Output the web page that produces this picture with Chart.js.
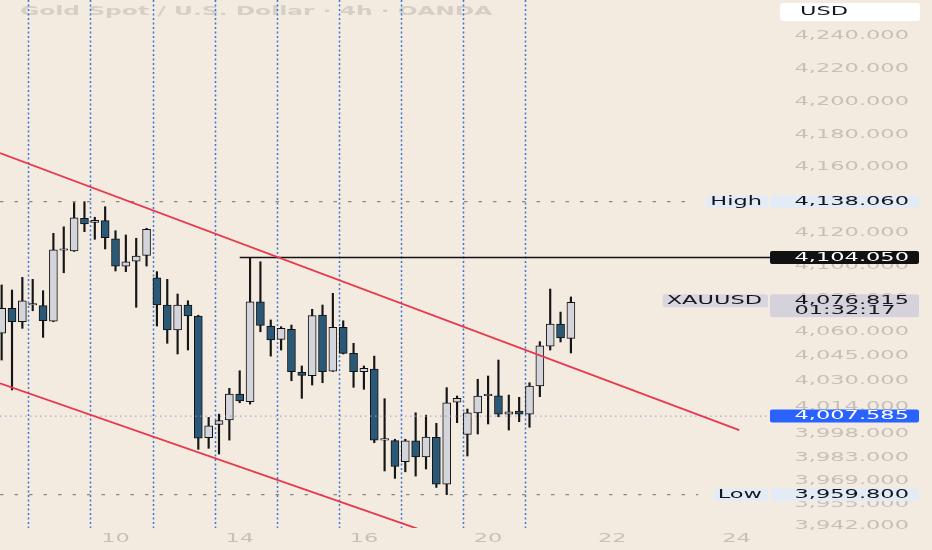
<!DOCTYPE html>
<html>
<head>
<meta charset="utf-8">
<script src="https://cdn.jsdelivr.net/npm/chart.js@4.4.1/dist/chart.umd.min.js"></script>
<style>
  html, body { margin: 0; padding: 0; background: #f4ebe0; }
  #wrap { width: 932px; height: 550px; position: relative; }
</style>
</head>
<body>
<div id="wrap"><canvas id="c"></canvas></div>
<script>
// 4h candles, oldest first (index 0 = first visible candle)
const opens = [4058.0, 4073.2, 4065.0, 4075.2, 4074.8, 4065.4, 4108.5, 4108.1, 4128.0, 4125.5,
  4126.5, 4115.5, 4098.9, 4101.8, 4105.4, 4091.8, 4075.2, 4060.0, 4075.2, 4068.5,
  3994.4, 4002.6, 4005.2, 4021.0, 4016.3, 4077.2, 4062.4, 4054.3, 4060.4, 4034.2,
  4032.2, 4069.1, 4035.0, 4061.6, 4045.8, 4034.6, 4036.2, 3993.0, 3992.7, 3979.8,
  3992.5, 3982.7, 3994.7, 3966.2, 4016.0, 3996.5, 4009.6, 4020.0, 4020.0, 4008.8,
  4010.7, 4008.8, 4025.9, 4050.2, 4063.6, 4054.9];
const highs = [4087.4, 4084.3, 4092.0, 4090.8, 4083.9, 4118.8, 4122.8, 4137.5, 4138.06, 4128.6,
  4135.0, 4120.4, 4117.8, 4115.8, 4121.9, 4095.5, 4090.8, 4081.9, 4077.8, 4069.0,
  4006.8, 4008.8, 4024.5, 4035.2, 4104.05, 4101.5, 4066.1, 4062.0, 4063.0, 4038.1,
  4072.6, 4075.2, 4082.3, 4065.6, 4051.9, 4038.1, 4044.1, 4018.2, 3993.5, 3993.5,
  4009.6, 4008.2, 4003.2, 4024.9, 4019.8, 4011.9, 4030.0, 4032.0, 4041.7, 4020.4,
  4019.0, 4027.9, 4052.9, 4084.9, 4070.9, 4080.1];
const lows = [4041.7, 4023.5, 4061.0, 4071.7, 4055.5, 4065.0, 4094.8, 4107.8, 4119.8, 4115.2,
  4109.3, 4095.9, 4095.5, 4073.8, 4098.9, 4062.4, 4051.9, 4045.4, 4047.8, 3987.4,
  3988.0, 3984.5, 3993.0, 4015.7, 4014.9, 4058.9, 4044.1, 4047.8, 4029.1, 4018.4,
  4026.5, 4027.9, 4034.7, 4045.4, 4025.1, 4023.9, 3991.4, 3974.2, 3969.7, 3973.7,
  3971.1, 3975.4, 3964.2, 3959.8, 4003.6, 3983.3, 3996.7, 4002.8, 4007.2, 3999.1,
  4004.2, 4000.8, 4019.4, 4047.8, 4052.7, 4046.0];
const closes = [4073.2, 4065.0, 4077.8, 4075.4, 4065.6, 4108.7, 4108.8, 4128.3, 4124.5, 4126.7,
  4116.1, 4098.9, 4101.5, 4105.0, 4121.3, 4075.2, 4060.0, 4075.2, 4068.5, 3994.1,
  4001.7, 4004.8, 4021.0, 4016.9, 4077.2, 4062.8, 4053.9, 4061.0, 4034.6, 4032.4,
  4068.7, 4034.6, 4061.6, 4045.8, 4034.6, 4036.7, 3993.0, 3993.2, 3977.0, 3992.5,
  3982.7, 3994.9, 3966.2, 4015.7, 4018.4, 4009.6, 4019.8, 4020.2, 4008.8, 4010.2,
  4008.8, 4025.9, 4050.4, 4063.6, 4055.1, 4076.815];

// axis labels
const priceTicks = [4240, 4220, 4200, 4180, 4160, 4120, 4100, 4080, 4060, 4045, 4030, 4014, 3998, 3983, 3969, 3955, 3942];
const dateTickPos = [11, 23, 35, 47, 59, 71];
const dateTickLabels = ['10', '14', '16', '20', '22', '24'];

// drawings on the chart
const dayLines = [2.58, 8.58, 14.6, 20.58, 26.6, 32.6, 38.56, 44.57, 50.56];
const upperChannel = [[-0.16, 4167.6], [71.27, 3999.1]];
const lowerChannel = [[-0.16, 4027.5], [40.16, 3939.1]];
const highLevel = 4138.06;
const lowLevel = 3959.8;
const levelLineEnd = 66.8;
const resistanceLevel = 4104.05;
const resistanceFrom = 23;
const alertLevel = 4007.585;
const lastPrice = 4076.815;
const countdown = '01:32:17';
const symbol = 'XAUUSD';
const title = 'Gold Spot / U.S. Dollar · 4h · OANDA';

const xMin = -0.16, xMax = 74.43;
const yMin = 3939.5, yMax = 4260.8;

const BG = '#f4ebe0';
const FONT = '"DejaVu Sans", Verdana, sans-serif';
const SX = 1.8; // the screenshot text is stretched wide

function fmt(v) {
    return v.toLocaleString('en-US', { minimumFractionDigits: 3, maximumFractionDigits: 3 });
}

// draw text stretched horizontally, returns drawn width
function wideText(ctx, text, x, y, align, font, color) {
    ctx.save();
    ctx.font = font;
    ctx.fillStyle = color;
    ctx.textBaseline = 'middle';
    ctx.textAlign = 'left';
    const w = ctx.measureText(text).width * SX;
    const left = align === 'right' ? x - w : align === 'center' ? x - w / 2 : x;
    ctx.translate(left, y);
    ctx.scale(SX, 1);
    ctx.fillText(text, 0, 0);
    ctx.restore();
    return w;
}

function textWidth(ctx, text, font) {
    ctx.save();
    ctx.font = font;
    const w = ctx.measureText(text).width * SX;
    ctx.restore();
    return w;
}

function box(ctx, x, y, w, h, color, r) {
    ctx.save();
    ctx.fillStyle = color;
    ctx.beginPath();
    ctx.roundRect(x, y, w, h, r || 2);
    ctx.fill();
    ctx.restore();
}

const seg = (a, b) => [{ x: a[0], y: a[1] }, { x: b[0], y: b[1] }];

const backdrop = {
    id: 'backdrop',
    beforeDraw(chart) {
        const ctx = chart.ctx;
        ctx.save();
        ctx.fillStyle = BG;
        ctx.fillRect(0, 0, chart.width, chart.height);
        ctx.restore();
    },
    beforeDatasetsDraw(chart) {
        const ctx = chart.ctx;
        const area = chart.chartArea;
        const xs = chart.scales.x;
        wideText(ctx, title, 20, 12, 'left', 'bold 13px ' + FONT, '#d6cfc7');
        // day separators
        ctx.save();
        ctx.strokeStyle = '#3575dc';
        ctx.lineWidth = 1.5;
        ctx.setLineDash([2, 2.5]);
        dayLines.forEach(v => {
            const px = Math.round(xs.getPixelForValue(v)) + 0.5;
            ctx.beginPath();
            ctx.moveTo(px, area.top);
            ctx.lineTo(px, area.bottom);
            ctx.stroke();
        });
        ctx.restore();
    },
    afterDraw(chart) {
        const ctx = chart.ctx;
        const area = chart.chartArea;
        const xs = chart.scales.x;
        const ys = chart.scales.y;
        const tickFont = '12.5px ' + FONT;
        const tickColor = '#c6c0b9';
        const textRight = area.right + 137;
        const bl = area.right - 2, bw = 149;

        priceTicks.forEach(v => {
            wideText(ctx, fmt(v), textRight, ys.getPixelForValue(v) + 1.5, 'right', tickFont, tickColor);
        });
        dateTickPos.forEach((v, i) => {
            wideText(ctx, dateTickLabels[i], xs.getPixelForValue(v), area.bottom + 11, 'center', tickFont, tickColor);
        });

        // USD unit box
        box(ctx, 780, 3, 140, 18, '#ffffff', 3);
        wideText(ctx, 'USD', 800, 12, 'left', tickFont, '#131722');

        const dark = '#131722';
        // High / Low labels
        [['High', highLevel], ['Low', lowLevel]].forEach(([name, v]) => {
            const py = ys.getPixelForValue(v);
            const tw = textWidth(ctx, name, tickFont);
            box(ctx, area.right - 14 - tw, py - 6.5, tw + 10, 13, '#e3ecf5', 0);
            wideText(ctx, name, area.right - 10, py, 'right', tickFont, dark);
            box(ctx, bl, py - 6.5, bw, 13, '#e3ecf5', 0);
            wideText(ctx, fmt(v), textRight, py, 'right', tickFont, dark);
        });

        // resistance line label
        let py = ys.getPixelForValue(resistanceLevel);
        box(ctx, bl, py - 6.5, bw, 13, '#111111', 2);
        wideText(ctx, fmt(resistanceLevel), textRight, py, 'right', tickFont, '#ffffff');

        // alert line label
        py = ys.getPixelForValue(alertLevel);
        box(ctx, bl, py - 6.5, bw, 13, '#2962ff', 2);
        wideText(ctx, fmt(alertLevel), textRight, py, 'right', tickFont, '#ffffff');

        // last price with countdown
        py = ys.getPixelForValue(lastPrice);
        const sw = textWidth(ctx, symbol, tickFont);
        box(ctx, area.right - 14 - sw, py - 8, sw + 10, 13, '#d9d6df', 0);
        wideText(ctx, symbol, area.right - 10, py - 1.5, 'right', tickFont, dark);
        box(ctx, bl, py - 8, bw, 23, '#d5d2dc', 2);
        const pw = textWidth(ctx, fmt(lastPrice), tickFont);
        wideText(ctx, fmt(lastPrice), textRight, py - 2, 'right', tickFont, dark);
        wideText(ctx, countdown, textRight - pw, py + 8, 'left', tickFont, dark);
    }
};

const bull = '#d4d4db', bear = '#2a5877';
const idx = closes.map((c, i) => i);

new Chart(document.getElementById('c'), {
    type: 'bar',
    data: {
        datasets: [
            {
                type: 'line', label: 'upper channel', data: seg(upperChannel[0], upperChannel[1]),
                borderColor: '#e8384d', borderWidth: 1.8, pointRadius: 0, order: 0
            },
            {
                type: 'line', label: 'lower channel', data: seg(lowerChannel[0], lowerChannel[1]),
                borderColor: '#e8384d', borderWidth: 1.8, pointRadius: 0, order: 0
            },
            {
                type: 'line', label: 'resistance', data: seg([resistanceFrom, resistanceLevel], [xMax, resistanceLevel]),
                borderColor: '#111111', borderWidth: 1.5, pointRadius: 0, order: 0
            },
            {
                type: 'line', label: 'high', data: seg([xMin, highLevel], [levelLineEnd, highLevel]),
                borderColor: '#8d8883', borderWidth: 1.2, borderDash: [3.5, 11], pointRadius: 0, order: 1
            },
            {
                type: 'line', label: 'low', data: seg([xMin, lowLevel], [levelLineEnd + 0.5, lowLevel]),
                borderColor: '#8d8883', borderWidth: 1.2, borderDash: [3.5, 11], pointRadius: 0, order: 1
            },
            {
                type: 'line', label: 'alert', data: seg([xMin, alertLevel], [xMax, alertLevel]),
                borderColor: '#9b96c9', borderWidth: 1, borderDash: [1.5, 3.5], pointRadius: 0, order: 1
            },
            {
                label: 'bodies',
                data: idx.map(i => ({ x: i, y: [opens[i], closes[i]] })),
                backgroundColor: idx.map(i => closes[i] >= opens[i] ? bull : bear),
                borderColor: '#111111',
                borderWidth: 1,
                borderSkipped: false,
                barThickness: 8,
                minBarLength: 1.5,
                grouped: false,
                order: 2
            },
            {
                label: 'wicks',
                data: idx.map(i => ({ x: i, y: [lows[i], highs[i]] })),
                backgroundColor: '#151515',
                barThickness: 1.5,
                grouped: false,
                order: 3
            }
        ]
    },
    options: {
        responsive: true,
        maintainAspectRatio: false,
        animation: false,
        layout: { padding: 0, autoPadding: false },
        plugins: {
            legend: { display: false },
            tooltip: { enabled: false }
        },
        scales: {
            x: {
                type: 'linear',
                min: xMin,
                max: xMax,
                offset: false,
                grid: { display: false },
                border: { display: false },
                ticks: { display: false },
                afterFit(scale) { scale.height = 22; }
            },
            y: {
                type: 'linear',
                position: 'right',
                min: yMin,
                max: yMax,
                grid: { display: false },
                border: { display: false },
                ticks: { display: false },
                afterFit(scale) { scale.width = 160; }
            }
        }
    },
    plugins: [backdrop]
});
</script>
</body>
</html>
